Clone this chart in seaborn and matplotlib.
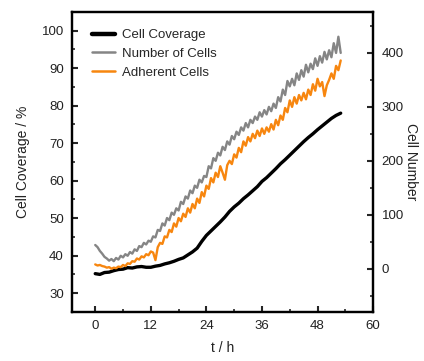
import numpy as np
import pandas as pd
import matplotlib
matplotlib.use("Agg")
import matplotlib.pyplot as plt
from matplotlib.ticker import MultipleLocator
from matplotlib.lines import Line2D
import seaborn as sns

# ---- data ----
t_fine = np.arange(0, 53.01, 0.5)          # hours, 0.5 h sampling
number_of_cells = [
    44, 40, 33, 28, 22, 19, 15, 18, 14, 20, 17, 24, 21, 27, 24, 31, 28, 36, 33, 42,
    40, 48, 45, 52, 50, 60, 58, 72, 70, 84, 80, 94, 90, 104, 100, 112, 108, 124, 120, 134,
    130, 145, 140, 154, 150, 165, 160, 172, 170, 190, 186, 205, 200, 215, 210, 226, 220, 236, 230, 246,
    240, 254, 248, 262, 256, 270, 262, 276, 270, 282, 276, 290, 282, 294, 286, 300, 292, 306, 298, 318,
    310, 332, 322, 348, 338, 352, 340, 362, 350, 368, 356, 378, 364, 380, 370, 390, 376, 394, 382, 402,
    388, 405, 392, 418, 400, 430, 400]
adherent_cells = [
    8, 6, 7, 5, 4, 2, 3, 0, 2, 1, 4, 3, 7, 5, 10, 9, 14, 13, 19, 17,
    23, 21, 27, 25, 32, 30, 16, 40, 48, 46, 60, 58, 72, 68, 84, 78, 94, 88, 102, 96,
    112, 104, 120, 112, 130, 122, 142, 134, 154, 148, 168, 160, 178, 170, 190, 178, 165, 192, 200, 194,
    212, 206, 224, 216, 236, 228, 244, 236, 250, 242, 256, 246, 260, 250, 262, 254, 268, 258, 276, 266,
    284, 276, 298, 290, 312, 300, 318, 306, 322, 312, 326, 314, 332, 322, 342, 330, 352, 338, 346, 320,
    340, 350, 362, 352, 376, 368, 386]
t_coarse = np.arange(0, 54, 1)             # hours, 1 h sampling
cell_coverage = [
    35.2, 35.0, 35.5, 35.6, 36.0, 36.3, 36.4, 36.8, 36.7, 37.0, 37.1, 36.9, 36.9, 37.2, 37.4,
    37.8, 38.1, 38.5, 39.0, 39.4, 40.2, 41.0, 42.0, 43.8, 45.4, 46.6, 47.8, 49.0, 50.3, 51.8,
    53.0, 54.0, 55.2, 56.2, 57.3, 58.4, 59.8, 60.8, 62.0, 63.2, 64.5, 65.6, 66.8, 68.0, 69.2,
    70.4, 71.5, 72.5, 73.6, 74.6, 75.6, 76.6, 77.4, 78.0]

labels = ["Cell Coverage", "Number of Cells", "Adherent Cells"]
colors = ["black", "#858585", "#f7860f"]

sns.set_theme(style="ticks")
plt.rcParams["font.family"] = ["Liberation Sans", "DejaVu Sans"]

fig = plt.figure(figsize=(4.24, 3.61), dpi=100)
ax = fig.add_axes([0.170, 0.136, 0.710, 0.831])
ax2 = ax.twinx()

sns.lineplot(x=t_coarse, y=cell_coverage, ax=ax, color=colors[0], lw=2.4, legend=False)
sns.lineplot(x=t_fine, y=number_of_cells, ax=ax2, color=colors[1], lw=1.7, legend=False)
sns.lineplot(x=t_fine, y=adherent_cells, ax=ax2, color=colors[2], lw=1.7, legend=False)

ax.set_xlim(-5, 60)
ax.set_ylim(25, 105)
ax2.set_ylim(-80, 476)

ax.xaxis.set_major_locator(MultipleLocator(12))
ax.xaxis.set_minor_locator(MultipleLocator(6))
ax.yaxis.set_major_locator(MultipleLocator(10))
ax.yaxis.set_minor_locator(MultipleLocator(5))
ax2.yaxis.set_major_locator(MultipleLocator(100))
ax2.yaxis.set_minor_locator(MultipleLocator(50))

tc = "#222222"
for a in (ax, ax2):
    for s in a.spines.values():
        s.set_linewidth(1.6)
        s.set_color("black")
    a.tick_params(which="major", direction="in", length=4, width=1.5, labelsize=9.5,
                  labelcolor=tc, pad=6)
    a.tick_params(which="minor", direction="in", length=2.5, width=1.2)
ax.tick_params(axis="y", right=False)
ax.tick_params(axis="x", top=False)
ax2.tick_params(axis="x", top=False, bottom=False)

ax.set_xlabel("t / h", fontsize=10, color=tc, labelpad=6)
ax.set_ylabel("Cell Coverage / %", fontsize=10, color=tc, labelpad=8)
ax2.set_ylabel("Cell Number", fontsize=10, color=tc, rotation=-90, labelpad=10)

handles = [Line2D([], [], color=colors[0], lw=3.2),
           Line2D([], [], color=colors[1], lw=1.8),
           Line2D([], [], color=colors[2], lw=1.8)]
ax2.legend(handles, labels, loc="upper left", frameon=False, fontsize=9.5,
           handlelength=1.75, handletextpad=0.55, labelspacing=0.5,
           borderaxespad=0.0, borderpad=0.0, bbox_to_anchor=(0.066, 0.943))

fig.savefig("out.png", dpi=100)
